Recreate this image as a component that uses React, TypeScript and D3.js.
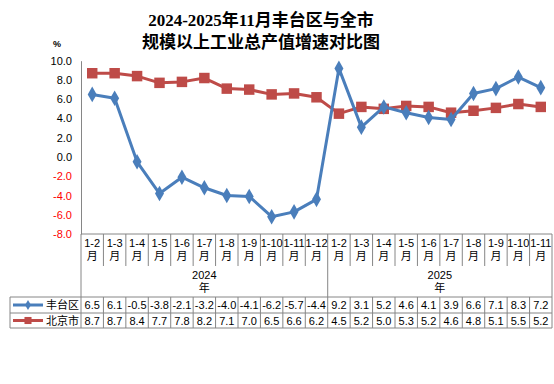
import * as d3 from 'd3';
import { useEffect, useRef } from 'react';

const years = ['2024', '2025'];
const months2024 = ['1-2', '1-3', '1-4', '1-5', '1-6', '1-7', '1-8', '1-9', '1-10', '1-11', '1-12'];
const months2025 = ['1-2', '1-3', '1-4', '1-5', '1-6', '1-7', '1-8', '1-9', '1-10', '1-11'];
const fengtai = [6.5, 6.1, -0.5, -3.8, -2.1, -3.2, -4.0, -4.1, -6.2, -5.7, -4.4, 9.2, 3.1, 5.2, 4.6, 4.1, 3.9, 6.6, 7.1, 8.3, 7.2];
const beijing = [8.7, 8.7, 8.4, 7.7, 7.8, 8.2, 7.1, 7.0, 6.5, 6.6, 6.2, 4.5, 5.2, 5.0, 5.3, 5.2, 4.6, 4.8, 5.1, 5.5, 5.2];
const yTicks = [10, 8, 6, 4, 2, 0, -2, -4, -6, -8];

const BLUE = '#4A7EBB';
const RED = '#BE4B48';
const GRID = '#868686';
const FONT = '"Liberation Sans", "Noto Sans CJK SC", sans-serif';

export default function App() {
  const svgRef = useRef<SVGSVGElement>(null);

  useEffect(() => {
    if (!svgRef.current) return;
    const svg = d3.select(svgRef.current);
    svg.selectAll('*').remove();

    const width = 554;
    const height = 384;
    const left = 81;
    const right = 552;
    const top = 60.7;
    const bottom = 234;
    const rowCat = 266;
    const rowYear = 297;
    const row1 = 313;
    const row2 = 328;
    const legendLeft = 10;

    const cats = [
      ...months2024.map((m) => ({ key: `2024-${m}`, label: m, year: years[0] })),
      ...months2025.map((m) => ({ key: `2025-${m}`, label: m, year: years[1] })),
    ];

    const x = d3
      .scaleBand<string>()
      .domain(cats.map((c) => c.key))
      .range([left, right]);
    const y = d3.scaleLinear().domain([-8, 10]).range([bottom, top]);
    const cx = (i: number) => (x(cats[i].key) as number) + x.bandwidth() / 2;

    svg.attr('width', width).attr('height', height);

    // Title
    const title = svg
      .append('text')
      .attr('x', 261)
      .attr('text-anchor', 'middle')
      .attr('font-family', '"Liberation Serif", "Noto Sans CJK SC", serif')
      .attr('font-size', 17)
      .attr('font-weight', 'bold')
      .attr('fill', '#000');
    title.append('tspan').attr('x', 261).attr('y', 26).text('2024-2025年11月丰台区与全市');
    title.append('tspan').attr('x', 261).attr('y', 48).text('规模以上工业总产值增速对比图');

    svg
      .append('text')
      .attr('x', 57)
      .attr('y', 47)
      .attr('text-anchor', 'middle')
      .attr('font-family', FONT)
      .attr('font-size', 9)
      .attr('font-weight', 'bold')
      .text('%');

    // Y axis
    svg
      .append('g')
      .attr('transform', `translate(${left},0)`)
      .call(d3.axisLeft(y).tickValues(yTicks).tickSize(0).tickPadding(9).tickFormat((d) => (d as number).toFixed(1)))
      .call((g) => g.select('.domain').attr('stroke', GRID))
      .call((g) =>
        g
          .selectAll('.tick text')
          .attr('font-family', FONT)
          .attr('font-size', 11)
          .attr('fill', (d) => ((d as number) < 0 ? '#FF0000' : '#000'))
      );

    const tbl = svg.append('g').attr('stroke', GRID).attr('stroke-width', 1).attr('fill', 'none');
    const hline = (x1: number, x2: number, yy: number) =>
      tbl.append('line').attr('x1', x1).attr('x2', x2).attr('y1', yy).attr('y2', yy);
    const vline = (xx: number, y1: number, y2: number) =>
      tbl.append('line').attr('x1', xx).attr('x2', xx).attr('y1', y1).attr('y2', y2);

    hline(left, right, bottom);
    hline(legendLeft, right, rowYear);
    hline(legendLeft, right, row1);
    hline(legendLeft, right, row2);
    vline(left, bottom, row2);
    vline(right, bottom, row2);
    vline(legendLeft, rowYear, row2);

    cats.forEach((c, i) => {
      const xs = x(c.key) as number;
      if (i > 0) {
        const yearBreak = cats[i - 1].year !== c.year;
        vline(xs, bottom, yearBreak ? row2 : rowCat);
        if (!yearBreak) vline(xs, rowYear, row2);
      }
    });

    const txt = svg.append('g').attr('font-family', FONT).attr('font-size', 11).attr('fill', '#000').attr('text-anchor', 'middle');

    cats.forEach((c, i) => {
      txt.append('text').attr('x', cx(i)).attr('y', 247).text(c.label);
      txt.append('text').attr('x', cx(i)).attr('y', 260).text('月');
      txt.append('text').attr('x', cx(i)).attr('y', 309).text(fengtai[i].toFixed(1));
      txt.append('text').attr('x', cx(i)).attr('y', 324.5).text(beijing[i].toFixed(1));
    });

    years.forEach((yr) => {
      const idx = cats.map((c, i) => (c.year === yr ? i : -1)).filter((i) => i >= 0);
      const x0 = x(cats[idx[0]].key) as number;
      const x1 = (x(cats[idx[idx.length - 1]].key) as number) + x.bandwidth();
      const mid = (x0 + x1) / 2;
      txt.append('text').attr('x', mid).attr('y', 279).text(yr);
      txt.append('text').attr('x', mid).attr('y', 292).text('年');
    });

    // Legend in table
    const leg = [
      { name: '丰台区', color: BLUE, shape: d3.symbolDiamond, size: 30, yy: (rowYear + row1) / 2 },
      { name: '北京市', color: RED, shape: d3.symbolSquare, size: 50, yy: (row1 + row2) / 2 },
    ];
    leg.forEach((l) => {
      svg.append('line').attr('x1', 13).attr('x2', 43).attr('y1', l.yy).attr('y2', l.yy).attr('stroke', l.color).attr('stroke-width', 3);
      svg
        .append('path')
        .attr('d', d3.symbol(l.shape, l.size)() as string)
        .attr('transform', `translate(28,${l.yy})`)
        .attr('fill', l.color);
      svg
        .append('text')
        .attr('x', 46)
        .attr('y', l.yy + 4)
        .attr('font-family', FONT)
        .attr('font-size', 11)
        .attr('fill', '#000')
        .text(l.name);
    });

    // Series
    const series = [
      { values: beijing, color: RED, shape: d3.symbolSquare, size: 110 },
      { values: fengtai, color: BLUE, shape: d3.symbolDiamond, size: 70 },
    ];
    series.forEach((s) => {
      const line = d3
        .line<number>()
        .x((_, i) => cx(i))
        .y((d) => y(d));
      svg
        .append('path')
        .datum(s.values)
        .attr('fill', 'none')
        .attr('stroke', s.color)
        .attr('stroke-width', 3)
        .attr('stroke-linejoin', 'round')
        .attr('d', line);
      svg
        .selectAll(null)
        .data(s.values)
        .enter()
        .append('path')
        .attr('d', d3.symbol(s.shape, s.size)() as string)
        .attr('transform', (d, i) => `translate(${cx(i)},${y(d)})`)
        .attr('fill', s.color);
    });
  }, []);

  return (
    <div style={{ position: 'absolute', left: 0, top: 0, background: '#fff' }}>
      <svg ref={svgRef} style={{ display: 'block' }} />
    </div>
  );
}
